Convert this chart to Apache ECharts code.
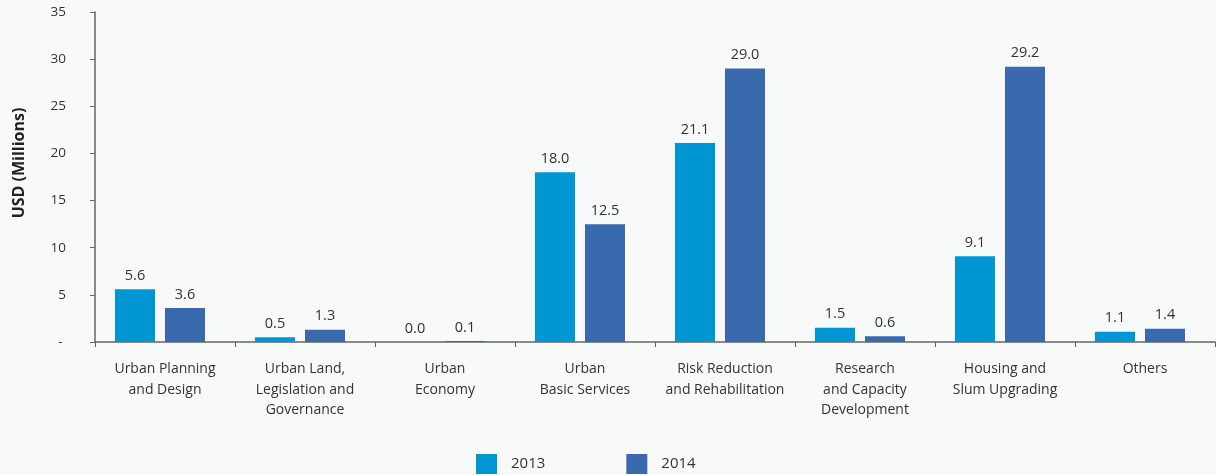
<!DOCTYPE html>
<html><head><meta charset="utf-8">
<script src="https://cdn.jsdelivr.net/npm/echarts@6/dist/echarts.min.js"></script>
<style>html,body{margin:0;padding:0;background:#f8fafa;}#c{width:1216px;height:475px;}</style>
</head><body><div id="c"></div>
<script>
var categories = ['Urban Planning\nand Design','Urban Land,\nLegislation and\nGovernance','Urban\nEconomy','Urban\nBasic Services','Risk Reduction\nand Rehabilitation','Research\nand Capacity\nDevelopment','Housing and\nSlum Upgrading','Others'];
var values2013 = [5.6, 0.5, 0.0, 18.0, 21.1, 1.5, 9.1, 1.1];
var values2014 = [3.6, 1.3, 0.1, 12.5, 29.0, 0.6, 29.2, 1.4];
var seriesNames = ['2013','2014'];
var font = '"Open Sans", "Noto Sans", sans-serif';
var chart = echarts.init(document.getElementById('c'));
function lbl(){return {show:true,position:'top',distance:6,color:'#333',fontSize:14.5,fontFamily:font,formatter:function(p){return p.value.toFixed(1);}};}
chart.setOption({
  backgroundColor:'#f8fafa',
  animation:false,
  grid:[
    {left:95,right:1,top:12,bottom:133,containLabel:false},
    {left:90,right:6,top:12,bottom:133,containLabel:false}
  ],
  legend:{bottom:-4,left:471,itemWidth:21,itemHeight:20,itemGap:81,icon:'rect',
    textStyle:{color:'#333',fontSize:15,fontFamily:font,padding:[0,0,0,9]},data:seriesNames},
  xAxis:[
    {type:'category',gridIndex:0,data:categories,
      axisLine:{lineStyle:{color:'#666',width:1.5}},
      axisTick:{show:true,length:5,lineStyle:{color:'#666'}},
      axisLabel:{color:'#333',fontSize:14,fontFamily:font,lineHeight:20.5,margin:17,interval:0}},
    {type:'category',gridIndex:1,data:categories,show:false}
  ],
  yAxis:[
    {type:'value',gridIndex:0,min:0,max:35,interval:5,
      name:'USD (Millions)',nameLocation:'middle',nameGap:68,
      nameTextStyle:{color:'#222',fontSize:16,fontWeight:'bold',fontFamily:font,padding:[0,0,0,28]},
      axisLine:{show:true,lineStyle:{color:'#666',width:1.5}},
      axisTick:{show:true,length:5,lineStyle:{color:'#666'}},
      splitLine:{show:false},
      axisLabel:{color:'#333',fontSize:13.5,fontFamily:font,margin:29,formatter:function(v){return v===0?'- ':v;}}},
    {type:'value',gridIndex:1,min:0,max:35,interval:5,show:false,splitLine:{show:false}}
  ],
  series:[
    {name:seriesNames[0],type:'bar',xAxisIndex:1,yAxisIndex:1,data:values2013,barWidth:40,barGap:'25%',itemStyle:{color:'#0096d4'},label:lbl()},
    {name:seriesNames[1],type:'bar',xAxisIndex:1,yAxisIndex:1,data:values2014,barWidth:40,itemStyle:{color:'#3a69ad'},label:lbl()}
  ]
});
</script></body></html>
